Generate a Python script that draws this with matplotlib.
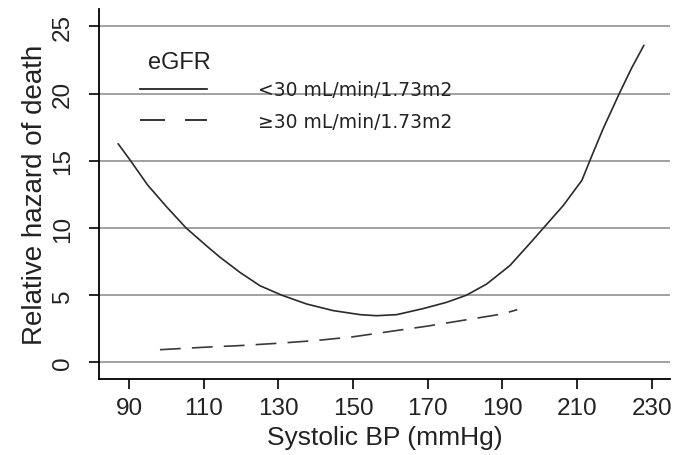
import matplotlib
matplotlib.use("Agg")
import matplotlib.pyplot as plt
from matplotlib.lines import Line2D

plt.rcParams['font.family'] = ['Liberation Sans', 'DejaVu Sans']
plt.rcParams['lines.scale_dashes'] = False

# Relative hazard of death by systolic BP, eGFR < 30
sbp_low = [87.1, 90.45, 95, 100, 105.3, 111.2, 114.4, 119.7, 125.1, 130.9, 137.6,
           144.7, 151.9, 156.3, 161.7, 168.8, 175.1, 180.4, 185.8, 192.0, 197.2,
           201.0, 206.3, 211.3, 214.0, 217.0, 221.3, 224.6, 227.9]
hr_low = [16.27, 15.0, 13.2, 11.6, 10.0, 8.57, 7.82, 6.7, 5.7, 5.0, 4.34,
          3.85, 3.55, 3.47, 3.55, 4.0, 4.47, 5.0, 5.83, 7.2, 8.8,
          10.0, 11.67, 13.55, 15.4, 17.4, 20.0, 21.9, 23.6]

# Relative hazard of death by systolic BP, eGFR >= 30
sbp_high = [98.3, 110, 120, 130, 140, 150, 160, 170, 180, 190, 194]
hr_high = [0.94, 1.12, 1.25, 1.42, 1.62, 1.9, 2.3, 2.7, 3.15, 3.6, 3.92]

xticks = [90, 110, 130, 150, 170, 190, 210, 230]
yticks = [0, 5, 10, 15, 20, 25]
labels = ['<30 mL/min/1.73m2', '\u226530 mL/min/1.73m2']

fig = plt.figure(figsize=(6.77, 4.56), dpi=100)
ax = fig.add_axes([0.1462, 0.1667, 0.8435, 0.8113])

ax.set_xlim(81.97, 234.9)
ax.set_ylim(-1.24, 26.3)

for y in yticks:
    ax.axhline(y, color='#9a9a9a', lw=1.3, zorder=1)

ax.plot(sbp_low, hr_low, color='#2a2a2a', lw=1.2, zorder=3,
        solid_joinstyle='round', solid_capstyle='round')
ax.plot(sbp_high, hr_high, color='#3a3a3a', lw=1.2, dashes=(15, 8), zorder=3)

ax.spines['top'].set_visible(False)
ax.spines['right'].set_visible(False)
ax.spines['left'].set_linewidth(1.3)
ax.spines['bottom'].set_linewidth(1.3)

ax.set_xticks(xticks)
ax.set_yticks(yticks)
ax.tick_params(axis='both', direction='out', length=7, width=1.2, labelsize=17.5,
               colors='black', labelcolor='#222222')
ax.tick_params(axis='y', pad=11)
ax.tick_params(axis='x', pad=6)
for t in ax.get_yticklabels():
    t.set_rotation(90)
    t.set_va('center')

ax.set_xlabel('Systolic BP (mmHg)', fontsize=19, color='#222222', labelpad=4)
ax.set_ylabel('Relative hazard of death', fontsize=20, color='#222222', labelpad=3)

ax.text(0.0858, 0.856, 'eGFR', transform=ax.transAxes, fontsize=17,
        color='#222222', ha='left', va='center')

handles = [Line2D([], [], color='#111111', lw=1.2),
           Line2D([], [], color='#111111', lw=1.2, dashes=(18, 14.4))]
leg = ax.legend(handles, labels, loc='upper left',
                bbox_to_anchor=(0.0718, 0.807), frameon=False,
                prop={'family': ['DejaVu Sans'], 'size': 13.5},
                handlelength=3.57, handletextpad=2.72, labelspacing=0.66,
                borderpad=0, borderaxespad=0)
for t in leg.get_texts():
    t.set_color('#222222')

fig.savefig('out.png', dpi=100, facecolor='white')
